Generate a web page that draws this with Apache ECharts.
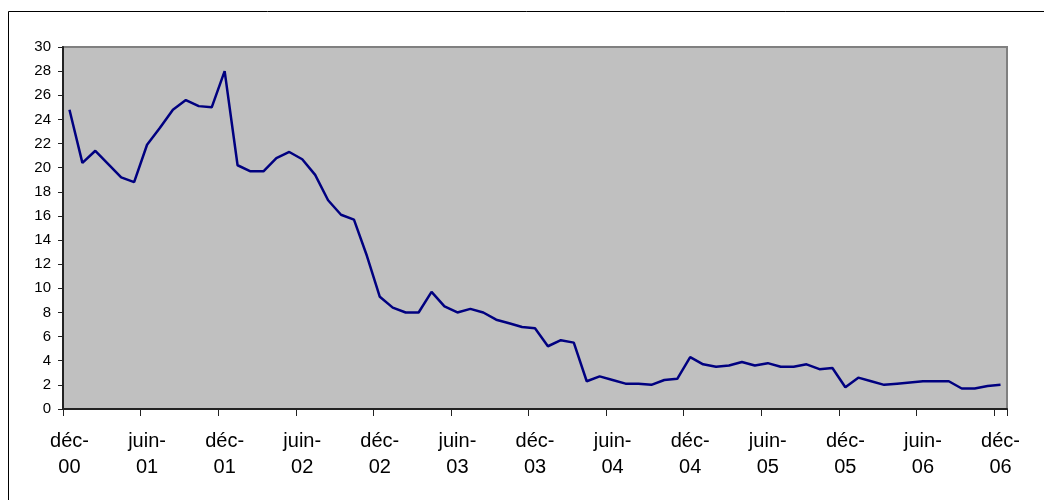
<!DOCTYPE html>
<html>
<head>
<meta charset="utf-8">
<script src="https://cdn.jsdelivr.net/npm/echarts@6/dist/echarts.min.js"></script>
<style>html,body{margin:0;padding:0;background:#fff;}#c{width:1044px;height:500px;}</style>
</head>
<body>
<div id="c"></div>
<script>
const monthNames = ['janv','févr','mars','avr','mai','juin','juil','août','sept','oct','nov','déc'];
// Months from déc-00 to déc-06
const categories = ['déc-00',
 'janv-01','févr-01','mars-01','avr-01','mai-01','juin-01','juil-01','août-01','sept-01','oct-01','nov-01','déc-01',
 'janv-02','févr-02','mars-02','avr-02','mai-02','juin-02','juil-02','août-02','sept-02','oct-02','nov-02','déc-02',
 'janv-03','févr-03','mars-03','avr-03','mai-03','juin-03','juil-03','août-03','sept-03','oct-03','nov-03','déc-03',
 'janv-04','févr-04','mars-04','avr-04','mai-04','juin-04','juil-04','août-04','sept-04','oct-04','nov-04','déc-04',
 'janv-05','févr-05','mars-05','avr-05','mai-05','juin-05','juil-05','août-05','sept-05','oct-05','nov-05','déc-05',
 'janv-06','févr-06','mars-06','avr-06','mai-06','juin-06','juil-06','août-06','sept-06','oct-06','nov-06','déc-06'];
const values = [24.8,
 20.4,21.4,20.3,19.2,18.8,21.9,23.3,24.8,25.6,25.1,25.0,28.0,
 20.2,19.7,19.7,20.8,21.3,20.7,19.4,17.3,16.1,15.7,12.7,9.3,
 8.4,8.0,8.0,9.7,8.5,8.0,8.3,8.0,7.4,7.1,6.8,6.7,
 5.2,5.7,5.5,2.3,2.7,2.4,2.1,2.1,2.0,2.4,2.5,4.3,
 3.7,3.5,3.6,3.9,3.6,3.8,3.5,3.5,3.7,3.3,3.4,1.8,
 2.6,2.3,2.0,2.1,2.2,2.3,2.3,2.3,1.7,1.7,1.9,2.0];
const yMin = 0, yMax = 30, yStep = 2;

const chart = echarts.init(document.getElementById('c'), null, {renderer:'canvas'});
const font = '"Liberation Sans", Arial, sans-serif';
chart.setOption({
  animation: false,
  backgroundColor: '#ffffff',
  graphic: [{
    type: 'rect', z: -10, silent: true,
    shape: {x: 8.5, y: 11.5, width: 1200, height: 700},
    style: {fill: 'none', stroke: '#000', lineWidth: 1}
  }],
  grid: {
    left: 63, top: 47, right: 37, bottom: 91,
    show: true, backgroundColor: '#C0C0C0', borderColor: '#808080', borderWidth: 2
  },
  xAxis: {
    type: 'category',
    data: categories,
    boundaryGap: true,
    axisLine: {show: true, lineStyle: {color: '#222', width: 2}},
    axisTick: {show: true, interval: 5, length: 7, lineStyle: {color: '#222', width: 1}},
    axisLabel: {
      interval: 5, color: '#000', fontFamily: font, fontSize: 20, lineHeight: 26, margin: 19,
      formatter: v => v.replace('-', '-\n')
    },
    splitLine: {show: false}
  },
  yAxis: {
    type: 'value', min: yMin, max: yMax, interval: yStep,
    axisLine: {show: true, lineStyle: {color: '#222', width: 2}},
    axisTick: {show: true, length: 5, lineStyle: {color: '#222', width: 1}},
    axisLabel: {color: '#000', fontFamily: font, fontSize: 15, margin: 12},
    splitLine: {show: false}
  },
  series: [{
    type: 'line',
    data: values,
    symbol: 'none',
    lineStyle: {color: '#000080', width: 2.5},
    itemStyle: {color: '#000080'}
  }]
});
</script>
</body>
</html>
